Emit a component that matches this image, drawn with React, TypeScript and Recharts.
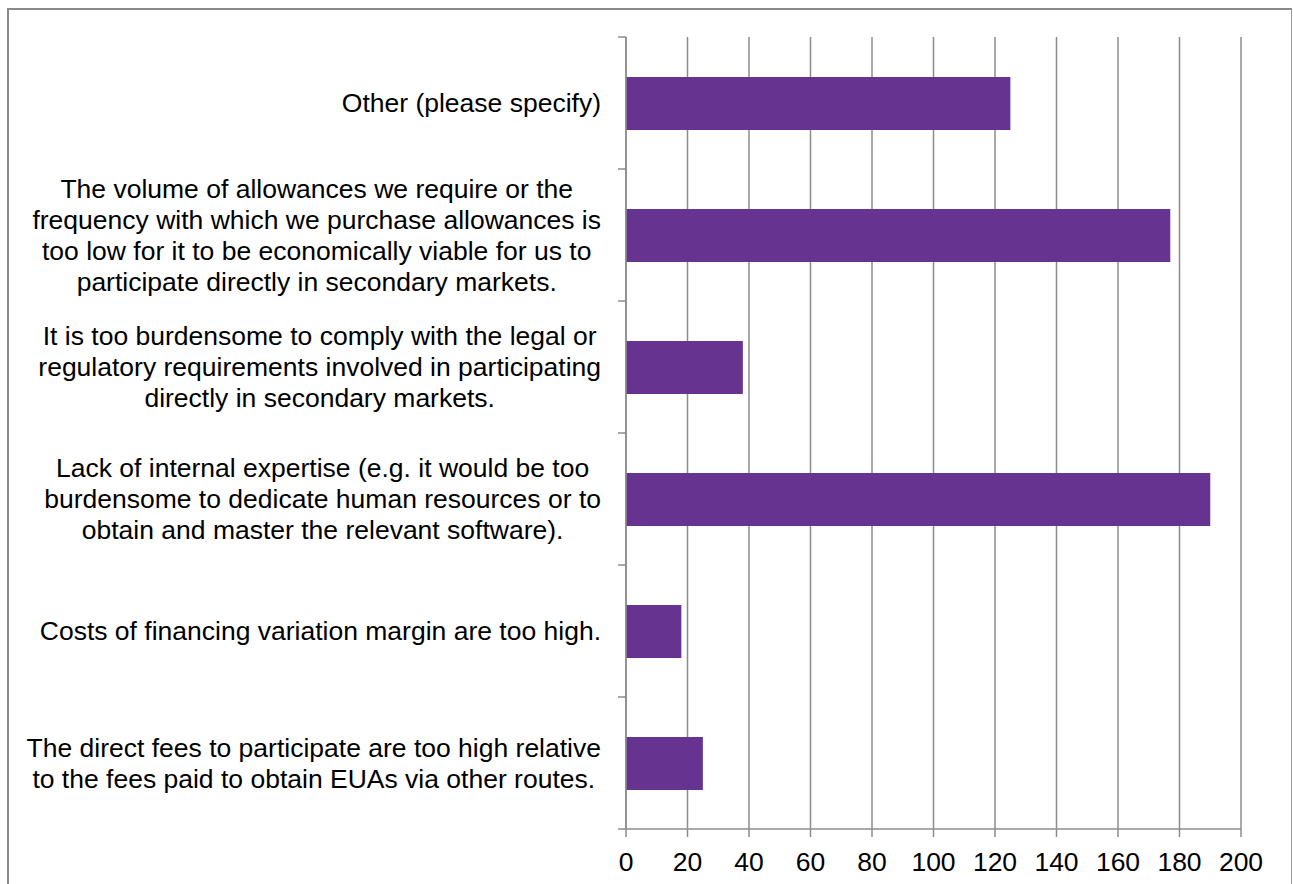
import React from 'react';
import { BarChart, Bar, XAxis, YAxis, CartesianGrid } from 'recharts';

const categories = [
  'Other (please specify)',
  'The volume of allowances we require or the frequency with which we purchase allowances is too low for it to be economically viable for us to participate directly in secondary markets.',
  'It is too burdensome to comply with the legal or regulatory requirements involved in participating directly in secondary markets.',
  'Lack of internal expertise (e.g. it would be too burdensome to dedicate human resources or to obtain and master the relevant software).',
  'Costs of financing variation margin are too high.',
  'The direct fees to participate are too high relative to the fees paid to obtain EUAs via other routes.',
];

const labelLines: string[][] = [
  ['Other (please specify)'],
  [
    'The volume of allowances we require or the',
    'frequency with which we purchase allowances is',
    'too low for it to be economically viable for us to',
    'participate directly in secondary markets.',
  ],
  [
    'It is too burdensome to comply with the legal or',
    'regulatory requirements involved in participating',
    'directly in secondary markets.',
  ],
  [
    'Lack of internal expertise (e.g. it would be too',
    'burdensome to dedicate human resources or to',
    'obtain and master the relevant software).',
  ],
  ['Costs of financing variation margin are too high.'],
  [
    'The direct fees to participate are too high relative',
    'to the fees paid to obtain EUAs via other routes.',
  ],
];

const values = [125, 177, 38, 190, 18, 25];

const xTicks = [0, 20, 40, 60, 80, 100, 120, 140, 160, 180, 200];

const data = categories.map((name, i) => ({ name, value: values[i] }));

const FONT = '"Liberation Sans", Arial, sans-serif';
const FONT_SIZE = 26.5;
const LINE_H = 31;
const W = 1293;
const H = 884;
const MARGIN = { top: 37, right: 52, bottom: 15, left: 0 };
const Y_AXIS_W = 626;
const X_AXIS_H = 40;
const PLOT_H = H - MARGIN.top - MARGIN.bottom - X_AXIS_H;
const BAND = PLOT_H / categories.length;
const AXIS_X = MARGIN.left + Y_AXIS_W;
const LABEL_RIGHT = 601;
const GRAY = '#8c8c8c';

let ctx: CanvasRenderingContext2D | null = null;
function measure(t: string): number {
  if (!ctx) {
    const c = document.createElement('canvas');
    ctx = c.getContext('2d');
  }
  if (!ctx) return t.length * FONT_SIZE * 0.5;
  ctx.font = `${FONT_SIZE}px ${FONT}`;
  return ctx.measureText(t).width;
}

const YTick = (props: any) => {
  const { y, payload } = props;
  const idx = categories.indexOf(payload.value);
  const lines = labelLines[idx] || [String(payload.value)];
  const maxW = Math.max(...lines.map(measure));
  const cx = LABEL_RIGHT - maxW / 2;
  const n = lines.length;
  return (
    <g>
      {lines.map((ln, i) => (
        <text
          key={i}
          x={cx}
          y={y + (i - (n - 1) / 2) * LINE_H}
          dy="0.35em"
          textAnchor="middle"
          fontFamily={FONT}
          fontSize={FONT_SIZE}
          fill="#000"
        >
          {ln}
        </text>
      ))}
      <line x1={AXIS_X - 8} x2={AXIS_X} y1={y - BAND / 2} y2={y - BAND / 2} stroke={GRAY} strokeWidth={1.5} />
      {idx === categories.length - 1 && (
        <line x1={AXIS_X - 8} x2={AXIS_X} y1={y + BAND / 2} y2={y + BAND / 2} stroke={GRAY} strokeWidth={1.5} />
      )}
    </g>
  );
};

export default function App() {
  return (
    <div style={{ position: 'absolute', left: 0, top: 0, width: W, height: H, overflow: 'hidden', background: '#fff' }}>
      <div
        style={{
          position: 'absolute',
          left: 7,
          top: 8,
          width: 1285,
          height: 900,
          boxSizing: 'border-box',
          borderLeft: '2px solid #8a8a8a',
          borderTop: '2px solid #8a8a8a',
          borderRight: '1.5px solid #9a9a9a',
        }}
      />
      <div style={{ position: 'absolute', left: 0, top: 0 }}>
        <BarChart width={W} height={H} data={data} layout="vertical" margin={MARGIN}>
          <CartesianGrid horizontal={false} vertical={true} stroke={GRAY} strokeWidth={1.5} />
          <XAxis
            type="number"
            domain={[0, 200]}
            ticks={xTicks}
            interval={0}
            height={X_AXIS_H}
            tickSize={8}
            tickMargin={15}
            axisLine={{ stroke: GRAY, strokeWidth: 1.5 }}
            tickLine={{ stroke: GRAY, strokeWidth: 1.5 }}
            tick={{ fill: '#000', fontSize: FONT_SIZE, fontFamily: FONT }}
          />
          <YAxis
            type="category"
            dataKey="name"
            width={Y_AXIS_W}
            interval={0}
            tickLine={false}
            axisLine={{ stroke: GRAY, strokeWidth: 1.5 }}
            tick={<YTick />}
          />
          <Bar dataKey="value" fill="#663391" barSize={53} isAnimationActive={false} />
        </BarChart>
      </div>
    </div>
  );
}
